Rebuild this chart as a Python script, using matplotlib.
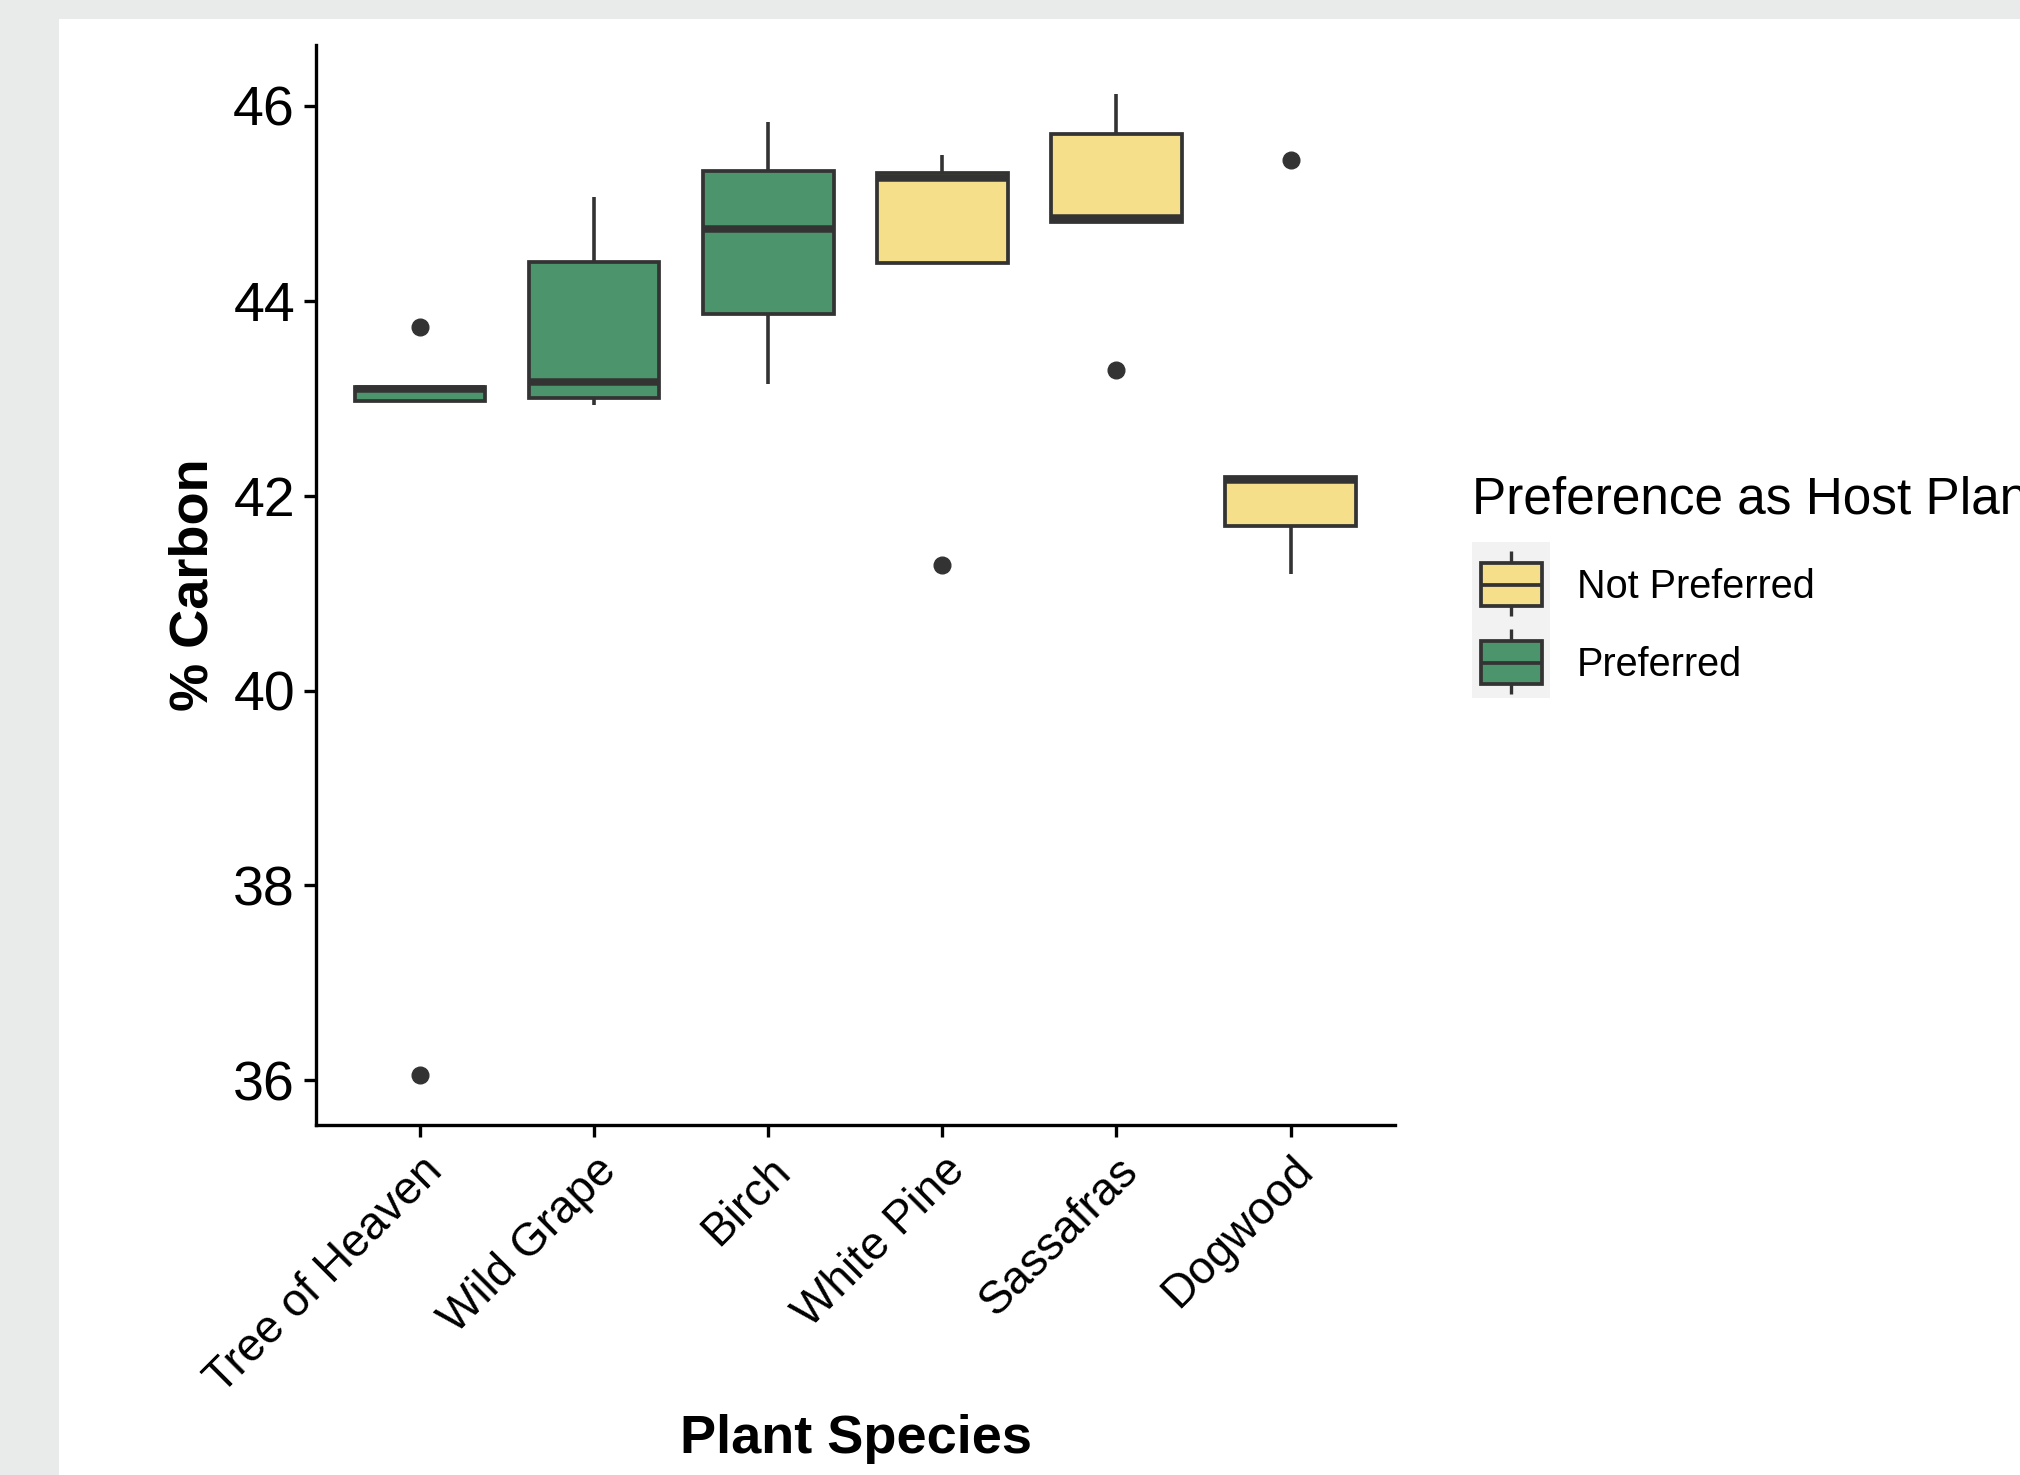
import matplotlib
matplotlib.use("Agg")
import matplotlib.pyplot as plt
from matplotlib.patches import Rectangle

plt.rcParams["font.family"] = ["Liberation Sans", "DejaVu Sans"]

# ---- data ----
species = ["Tree of Heaven", "Wild Grape", "Birch", "White Pine", "Sassafras", "Dogwood"]
preference = ["Preferred", "Preferred", "Preferred", "Not Preferred", "Not Preferred", "Not Preferred"]
q1 = [42.97, 43.00, 43.86, 44.39, 44.81, 41.69]
median = [43.09, 43.17, 44.74, 45.26, 44.85, 42.16]
q3 = [43.12, 44.40, 45.33, 45.31, 45.71, 42.19]
whisker_low = [42.97, 42.93, 43.15, 44.39, 44.81, 41.20]
whisker_high = [43.12, 45.06, 45.83, 45.50, 46.12, 42.19]
outliers = [[43.73, 36.05], [], [], [41.29], [43.29], [45.44]]
y_ticks = [36, 38, 40, 42, 44, 46]
legend_levels = ["Not Preferred", "Preferred"]
palette = {"Not Preferred": "#F5DF8B", "Preferred": "#4C946B"}

EDGE = "#333333"
W, H = 2020, 1475
fig = plt.figure(figsize=(W / 100, H / 100), dpi=100)
fig.patch.set_facecolor("#E9EBEA")

# background / overlay axes in pixel coordinates
bg = fig.add_axes([0, 0, 1, 1], zorder=0)
bg.set_xlim(0, W)
bg.set_ylim(H, 0)
bg.axis("off")
bg.add_patch(Rectangle((59, 19), W - 59, H - 19, facecolor="white", edgecolor="none", zorder=0))

# main axes
L, R, T, B = 315.6, 1395, 45, 1124.6
ax = fig.add_axes([L / W, 1 - B / H, (R - L) / W, (B - T) / H], zorder=1)
ax.set_facecolor("none")

stats = []
for i in range(len(species)):
    stats.append(dict(med=median[i], q1=q1[i], q3=q3[i],
                      whislo=whisker_low[i], whishi=whisker_high[i],
                      fliers=outliers[i]))
positions = list(range(1, len(species) + 1))
bp = ax.bxp(stats, positions=positions, widths=0.75, patch_artist=True,
            showcaps=False,
            boxprops=dict(linewidth=2.7, edgecolor=EDGE),
            medianprops=dict(linewidth=5.4, color=EDGE, solid_capstyle="butt"),
            whiskerprops=dict(linewidth=2.6, color=EDGE, solid_capstyle="butt"),
            flierprops=dict(marker="o", markerfacecolor=EDGE, markeredgecolor=EDGE,
                            markersize=12, linestyle="none"))
for patch, pref in zip(bp["boxes"], preference):
    patch.set_facecolor(palette[pref])

ax.set_xlim(0.4, 6.6)
ax.set_ylim(35.545, 46.625)
ax.set_yticks(y_ticks)
ax.set_yticklabels([str(t) for t in y_ticks])
ax.set_xticks(positions)
ax.set_xticklabels(species, rotation=45, ha="right", va="top", rotation_mode="anchor")

for s in ["top", "right"]:
    ax.spines[s].set_visible(False)
for s in ["left", "bottom"]:
    ax.spines[s].set_linewidth(2.4)
    ax.spines[s].set_color("black")
ax.tick_params(axis="both", length=8.8, width=2.4, color="black")
ax.tick_params(axis="y", labelsize=40, pad=6, labelcolor="black")
ax.tick_params(axis="x", labelsize=33, pad=8.5, labelcolor="black")

# axis titles
bg.text(856, 1453, "Plant Species", fontsize=39, fontweight="bold",
        ha="center", va="baseline")
bg.text(193, (T + B) / 2, "% Carbon", fontsize=39, fontweight="bold",
        ha="center", va="center", rotation=90)

# legend (title runs past the right edge, as in the reference)
bg.text(1472, 513, "Preference as Host Plant", fontsize=37, ha="left",
        va="baseline", clip_on=False)
bg.add_patch(Rectangle((1472, 542), 78, 156, facecolor="#F2F2F2", edgecolor="none", zorder=1))
key_centers = [585, 663]
for lvl, cy in zip(legend_levels, key_centers):
    bg.plot([1511, 1511], [cy - 34, cy + 31], color=EDGE, lw=2.4,
            solid_capstyle="butt", zorder=2)
    bg.add_patch(Rectangle((1481, cy - 22), 61, 43, facecolor=palette[lvl],
                           edgecolor=EDGE, lw=2.7, zorder=3))
    bg.plot([1481, 1542], [cy, cy], color=EDGE, lw=2.7, solid_capstyle="butt", zorder=4)
    bg.text(1577, cy + 2, lvl, fontsize=28.5, ha="left", va="center", zorder=5)

fig.savefig("out.png", dpi=100, facecolor=fig.get_facecolor())
